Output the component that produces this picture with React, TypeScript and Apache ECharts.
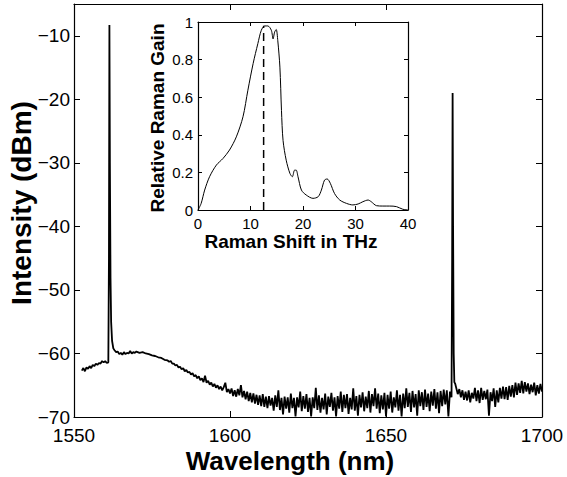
import React, { useEffect, useRef } from "react";
import * as echarts from "echarts";

// Main spectrum: [wavelength nm, intensity dBm]
const spectrum: [number, number][] = [
  [1552.5, -62.7], [1553, -62.3], [1553.5, -62.8], [1554, -62.2], [1554.5, -62.4], [1555, -62.0],
  [1555.5, -62.3], [1556, -61.8], [1556.5, -62.0], [1557, -61.6], [1557.5, -61.8], [1558, -61.5],
  [1558.5, -61.6], [1559, -61.2], [1559.5, -61.4], [1560, -61.2], [1560.5, -61.5], [1561, -61.4],
  [1561.2, -45], [1561.35, -8.3], [1561.5, -30], [1561.7, -48], [1561.9, -55], [1562.2, -58],
  [1562.6, -59.2], [1563, -59.5], [1563.5, -59.8], [1564, -59.7], [1564.5, -60.1], [1565, -59.9],
  [1565.5, -60.2], [1566, -59.8], [1566.5, -60.1], [1567, -59.9], [1567.5, -60.0], [1568, -59.6],
  [1568.5, -60.0], [1569, -59.8], [1569.5, -59.9], [1570, -59.7], [1571, -59.9], [1572, -59.8],
  [1573, -60.0], [1574, -60.1], [1575, -60.3], [1576, -60.4], [1577, -60.6], [1578, -60.7],
  [1579, -61.0], [1580, -61.1], [1580.5, -61.3], [1581, -61.2], [1581.5, -61.6], [1582, -61.6],
  [1582.5, -61.9], [1583, -61.8], [1583.5, -62.2], [1584, -62.1], [1584.5, -62.5], [1585, -62.3],
  [1585.5, -62.8], [1586, -62.6], [1586.5, -63.0], [1587, -62.9], [1587.5, -63.3], [1588, -63.1],
  [1588.5, -63.6], [1589, -63.4], [1589.5, -63.9], [1590, -63.6], [1590.5, -64.2], [1591, -63.9],
  [1591.5, -64.5], [1592, -63.5], [1592.5, -64.6], [1593, -64.3], [1593.5, -64.9], [1594, -64.6],
  [1594.5, -65.2], [1595, -64.8], [1595.5, -65.4], [1596, -65.0], [1596.5, -65.6], [1597, -65.2],
  [1597.5, -65.8], [1598, -65.3], [1598.5, -64.6], [1599, -66.1], [1599.5, -65.6], [1600, -66.3],
  [1600.5, -65.5], [1601, -66.7], [1601.5, -65.8], [1602, -66.8], [1602.5, -65.6], [1603, -66.6],
  [1603.5, -65.0], [1604, -66.9], [1604.5, -65.9], [1605, -67.2], [1605.5, -66.0], [1606, -67.5],
  [1606.5, -66.2], [1607, -67.7], [1607.5, -66.3], [1608, -67.9], [1608.5, -66.5], [1609, -68.1],
  [1609.5, -66.6], [1610, -68.3], [1610.5, -66.4], [1611, -68.4], [1611.5, -66.8],
  [1612, -68.6], [1612.5, -66.7], [1613, -68.2], [1613.5, -67.0], [1614, -69.0], [1614.5, -66.6],
  [1615, -68.4], [1615.5, -65.8], [1616, -68.9], [1616.5, -67.0], [1617, -69.6], [1617.5, -66.8],
  [1618, -68.7], [1618.5, -66.9], [1619, -69.3], [1619.5, -66.3], [1620, -68.6], [1620.5, -67.0],
  [1621, -69.9], [1621.5, -66.9], [1622, -68.5], [1622.5, -66.0], [1623, -69.1], [1623.5, -66.7],
  [1624, -68.7], [1624.5, -66.4], [1625, -69.2], [1625.5, -67.0], [1626, -69.9], [1626.5, -66.9],
  [1627, -68.6], [1627.5, -65.4], [1628, -68.9], [1628.5, -66.6], [1629, -69.3], [1629.5, -67.0],
  [1630, -68.8], [1630.5, -66.3], [1631, -69.6], [1631.5, -66.8], [1632, -68.4], [1632.5, -66.2],
  [1633, -69.0], [1633.5, -66.9], [1634, -69.9], [1634.5, -66.7], [1635, -68.7], [1635.5, -66.0],
  [1636, -69.2], [1636.5, -66.5], [1637, -68.6], [1637.5, -66.4], [1638, -69.5], [1638.5, -67.0],
  [1639, -68.8], [1639.5, -65.5], [1640, -69.0], [1640.5, -66.7], [1641, -69.8], [1641.5, -66.5],
  [1642, -68.5], [1642.5, -66.1], [1643, -69.1], [1643.5, -66.8], [1644, -68.6], [1644.5, -65.9],
  [1645, -69.3], [1645.5, -66.4], [1646, -68.3], [1646.5, -65.5], [1647, -68.7], [1647.5, -66.3],
  [1648, -69.4], [1648.5, -66.6], [1649, -68.8], [1649.5, -66.2], [1650, -69.9], [1650.5, -66.5],
  [1651, -68.7], [1651.5, -66.0], [1652, -69.3], [1652.5, -66.9], [1653, -68.5], [1653.5, -65.8],
  [1654, -69.0], [1654.5, -66.5], [1655, -69.9], [1655.5, -66.3], [1656, -68.6], [1656.5, -65.5],
  [1657, -68.4], [1657.5, -66.2], [1658, -69.2], [1658.5, -65.9], [1659, -68.5], [1659.5, -66.4],
  [1660, -69.8], [1660.5, -65.8], [1661, -68.3], [1661.5, -66.1], [1662, -68.9], [1662.5, -65.7],
  [1663, -68.4], [1663.5, -66.3], [1664, -69.1], [1664.5, -66.0], [1665, -68.2], [1665.5, -65.6],
  [1666, -68.7], [1666.5, -66.1], [1667, -69.4], [1667.5, -65.9], [1668, -68.3], [1668.5, -65.7],
  [1669, -68.0], [1669.5, -65.8], [1670, -69.9], [1670.5, -66.0], [1671, -66.9], [1671.2, -45],
  [1671.35, -19.0], [1671.5, -40], [1671.7, -60], [1671.9, -64.5], [1672.2, -64.8], [1672.6, -65.6],
  [1673, -66.4], [1673.5, -65.6], [1674, -66.9], [1674.5, -65.8], [1675, -67.3], [1675.5, -66.0],
  [1676, -67.4], [1676.5, -65.8], [1677, -67.7], [1677.5, -66.2], [1678, -67.1], [1678.5, -65.4],
  [1679, -67.5], [1679.5, -65.8], [1680, -67.8], [1680.5, -65.4], [1681, -67.3], [1681.5, -65.9],
  [1682, -67.2], [1682.5, -65.7], [1683, -69.8], [1683.5, -66.1], [1684, -67.5], [1684.5, -65.5],
  [1685, -68.4], [1685.5, -65.8], [1686, -67.7], [1686.5, -65.4], [1687, -67.1], [1687.5, -65.2],
  [1688, -67.2], [1688.5, -65.3], [1689, -67.3], [1689.5, -65.1], [1690, -66.8], [1690.5, -65.0],
  [1691, -66.9], [1691.5, -64.6], [1692, -66.5], [1692.5, -64.7], [1693, -66.2], [1693.5, -64.3],
  [1694, -66.3], [1694.5, -64.5], [1695, -66.0], [1695.5, -64.7], [1696, -66.4], [1696.5, -64.9],
  [1697, -66.1], [1697.5, -64.6], [1698, -66.6], [1698.5, -65.0], [1699, -66.3], [1699.5, -64.8],
  [1700, -66.0],
];

// Inset: Raman gain curve [shift THz, relative gain]
const ramanGain: [number, number][] = [
  [0, 0], [0.6, 0.035], [1.27, 0.106], [2.2, 0.177], [3.5, 0.239], [4.76, 0.274], [6.0, 0.319],
  [7.3, 0.389], [8.57, 0.496], [9.5, 0.637], [10.5, 0.779], [11.4, 0.885], [12.06, 0.956],
  [12.7, 0.979], [13.3, 0.979], [13.97, 0.956], [14.3, 0.91], [14.6, 0.947], [14.9, 0.96],
  [15.2, 0.9], [15.6, 0.76], [15.9, 0.53], [16.2, 0.37], [16.8, 0.265], [17.5, 0.195],
  [17.97, 0.177], [18.4, 0.212], [18.7, 0.212], [19.05, 0.177], [19.7, 0.106], [20.6, 0.08],
  [21.9, 0.062], [22.9, 0.071], [23.5, 0.106], [24.1, 0.159], [24.6, 0.165], [25.2, 0.142],
  [26.0, 0.088], [27.0, 0.053], [28.3, 0.035], [29.5, 0.027], [30.5, 0.032], [31.4, 0.044],
  [32.4, 0.053], [33.0, 0.044], [34.0, 0.023], [35.2, 0.021], [36.5, 0.021], [37.8, 0.018],
  [39.0, 0.004], [40.0, 0],
];

const ramanPeakLine: [number, number][] = [[12.5, 0], [12.5, 0.98]];

const xTitle = "Wavelength (nm)";
const yTitle = "Intensity (dBm)";
const insetXTitle = "Raman Shift in THz";
const insetYTitle = "Relative Raman Gain";

const FONT = "Liberation Sans, Arial, sans-serif";

const minusFmt = (v: number) => (v < 0 ? "\u2212" + Math.abs(v) : String(v));
const plainFmt = (v: number) => String(v);

export default function App() {
  const ref = useRef<HTMLDivElement>(null);
  useEffect(() => {
    document.body.style.margin = "0";
    const chart = echarts.init(ref.current!, null, { renderer: "svg" });
    const axisLine = { show: true, onZero: false, lineStyle: { color: "#000", width: 1.2 } };
    const mainTick = { show: true, inside: true, length: 6, lineStyle: { color: "#000", width: 1 } };
    const insetTick = { show: true, inside: true, length: 4, lineStyle: { color: "#000", width: 1 } };
    const titleStyle = (size: number) => ({
      fill: "#000", fontSize: size, fontWeight: "bold", fontFamily: FONT,
      align: "center", verticalAlign: "middle",
    });
    chart.setOption({
      animation: false,
      backgroundColor: "#fff",
      grid: [
        { left: 74, top: 4, right: 25, bottom: 60, show: false },
        { left: 198, top: 22, width: 210, height: 188, show: false },
      ],
      xAxis: [
        {
          type: "value", gridIndex: 0, min: 1550, max: 1700, interval: 50, position: "bottom",
          axisLine, axisTick: mainTick, splitLine: { show: false },
          axisLabel: { color: "#000", fontSize: 19, fontFamily: FONT, margin: 11, lineHeight: 14, formatter: plainFmt },
        },
        {
          type: "value", gridIndex: 0, min: 1550, max: 1700, interval: 50, position: "top",
          axisLine, axisTick: mainTick, splitLine: { show: false }, axisLabel: { show: false },
        },
        {
          type: "value", gridIndex: 1, min: 0, max: 40, interval: 10, position: "bottom",
          axisLine, axisTick: insetTick, splitLine: { show: false },
          axisLabel: { color: "#000", fontSize: 15, fontFamily: FONT, margin: 6, formatter: plainFmt },
        },
        {
          type: "value", gridIndex: 1, min: 0, max: 40, interval: 10, position: "top",
          axisLine, axisTick: insetTick, splitLine: { show: false }, axisLabel: { show: false },
        },
      ],
      yAxis: [
        {
          type: "value", gridIndex: 0, min: -70, max: -5, interval: 10, position: "left",
          axisLine, axisTick: mainTick, splitLine: { show: false },
          axisLabel: { color: "#000", fontSize: 19, fontFamily: FONT, margin: 4, lineHeight: 14, formatter: minusFmt, showMaxLabel: false },
        },
        {
          type: "value", gridIndex: 0, min: -70, max: -5, interval: 10, position: "right",
          axisLine, axisTick: mainTick, splitLine: { show: false }, axisLabel: { show: false },
        },
        {
          type: "value", gridIndex: 1, min: 0, max: 1, interval: 0.2, position: "left",
          axisLine, axisTick: insetTick, splitLine: { show: false },
          axisLabel: { color: "#000", fontSize: 15, fontFamily: FONT, margin: 5, formatter: plainFmt },
        },
        {
          type: "value", gridIndex: 1, min: 0, max: 1, interval: 0.2, position: "right",
          axisLine, axisTick: insetTick, splitLine: { show: false }, axisLabel: { show: false },
        },
      ],
      graphic: [
        { type: "text", x: 290, y: 461, style: { text: xTitle, ...titleStyle(26) } },
        { type: "text", x: 21, y: 203, rotation: Math.PI / 2, style: { text: yTitle, ...titleStyle(28) } },
        { type: "text", x: 291, y: 241, style: { text: insetXTitle, ...titleStyle(19) } },
        { type: "text", x: 157, y: 118, rotation: Math.PI / 2, style: { text: insetYTitle, ...titleStyle(19) } },
      ],
      series: [
        {
          type: "line", xAxisIndex: 0, yAxisIndex: 0, data: spectrum, symbol: "none",
          lineStyle: { color: "#000", width: 1.8 }, silent: true,
        },
        {
          type: "line", xAxisIndex: 2, yAxisIndex: 2, data: ramanGain, symbol: "none", smooth: 0.3,
          lineStyle: { color: "#000", width: 1 }, silent: true,
        },
        {
          type: "line", xAxisIndex: 2, yAxisIndex: 2, data: ramanPeakLine, symbol: "none",
          lineStyle: { color: "#000", width: 1.5, type: [8, 5] }, silent: true,
        },
      ],
    });
    return () => chart.dispose();
  }, []);
  return <div ref={ref} style={{ width: 567, height: 477 }} />;
}
